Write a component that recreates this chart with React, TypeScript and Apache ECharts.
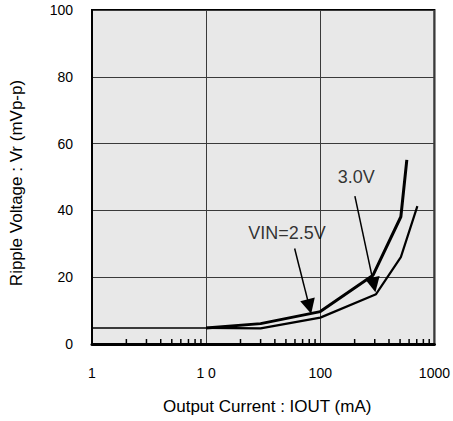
import React, { useEffect, useRef } from "react";
import * as echarts from "echarts";

const xTickValues = [1, 10, 100, 1000];
const xTickLabels = ["1", "1 0", "100", "1000"];
const minorTickValues = [2, 3, 4, 5, 6, 7, 8, 9, 20, 30, 40, 50, 60, 70, 80, 90, 200, 300, 400, 500, 600, 700, 800, 900];
const yTickValues = [0, 20, 40, 60, 80, 100];

const baseLine = [[1, 4.8], [10, 4.8]];
const curveUpper = [[10, 4.8], [30, 6.1], [100, 9.7], [290, 20.6], [508, 38.1], [573, 55.1]];
const curveLower = [[10, 4.8], [30, 4.7], [100, 7.9], [308, 14.9], [508, 26], [709, 41.3]];

const annotationLabels = ["VIN=2.5V", "3.0V"];
const annotationLabelAt = [[51, 33.2], [207, 50.1]];
const arrowFrom = [[59.6, 28.6], [201, 44.3]];
const arrowTo = [[80.2, 11.2], [294.7, 17.7]];

const FONT = "'Liberation Sans', Arial, sans-serif";

export default function App() {
  const ref = useRef<HTMLDivElement>(null);
  useEffect(() => {
    document.body.style.margin = "0";
    const chart = echarts.init(ref.current!, null, { renderer: "svg" });
    chart.setOption({
      animation: false,
      textStyle: { fontFamily: FONT },
      grid: {
        left: 92,
        right: 15,
        top: 10,
        bottom: 77,
        show: true,
        backgroundColor: "#e8e8e8",
        borderColor: "#000",
        borderWidth: 2,
      },
      xAxis: {
        type: "log",
        logBase: 10,
        min: 1,
        max: 1000,
        name: "Output Current : IOUT (mA)",
        nameLocation: "middle",
        nameGap: 54,
        nameTextStyle: { fontSize: 17, color: "#000", fontFamily: FONT, padding: [0, 0, 0, 8] },
        axisLine: { show: true, lineStyle: { color: "#000", width: 3 } },
        axisTick: { show: false },
        axisLabel: {
          fontSize: 14,
          color: "#000",
          margin: 22,
          fontFamily: FONT,
          formatter: (v: number) => {
            const i = xTickValues.findIndex((t) => Math.abs(t - v) < 1e-6 * t);
            return i >= 0 ? xTickLabels[i] : "";
          },
        },
        splitLine: { show: true, lineStyle: { color: "#3a3a3a", width: 1 } },
      },
      yAxis: {
        type: "value",
        min: 0,
        max: 100,
        interval: 20,
        name: "Ripple Voltage : Vr (mVp-p)",
        nameLocation: "middle",
        nameGap: 67,
        nameTextStyle: { fontSize: 17, color: "#000", fontFamily: FONT, padding: [0, 12, 0, 0] },
        axisLine: { show: true, lineStyle: { color: "#000", width: 2 } },
        axisTick: { show: false },
        axisLabel: {
          fontSize: 14,
          color: "#000",
          margin: 19,
          fontFamily: FONT,
          formatter: (v: number) => (yTickValues.includes(v) ? String(v) : ""),
        },
        splitLine: { show: true, lineStyle: { color: "#3a3a3a", width: 1 } },
      },
      series: [
        {
          type: "custom",
          silent: true,
          data: minorTickValues.map((v) => [v, 0]),
          renderItem: (params: any, api: any) => {
            const p = api.coord([api.value(0), 0]);
            return {
              type: "line",
              shape: { x1: p[0], y1: p[1], x2: p[0], y2: p[1] - 5 },
              style: { stroke: "#000", lineWidth: 1.5 },
            };
          },
          z: 3,
        },
        {
          type: "line",
          data: baseLine,
          showSymbol: false,
          symbol: "none",
          lineStyle: { color: "#000", width: 1.5 },
          silent: true,
        },
        {
          type: "line",
          data: curveUpper,
          showSymbol: false,
          symbol: "none",
          lineStyle: { color: "#000", width: 3 },
          silent: true,
        },
        {
          type: "line",
          data: curveLower,
          showSymbol: false,
          symbol: "none",
          lineStyle: { color: "#000", width: 2.2 },
          silent: true,
        },
        {
          type: "scatter",
          silent: true,
          symbolSize: 0,
          data: annotationLabelAt.map((p, i) => ({ value: p, name: annotationLabels[i] })),
          label: {
            show: true,
            position: "inside",
            formatter: (p: any) => p.name,
            fontSize: 18,
            color: "#000",
            fontFamily: FONT,
          },
          markLine: {
            silent: true,
            symbol: ["none", "triangle"],
            symbolSize: 15,
            label: { show: false },
            itemStyle: { color: "#000" },
            lineStyle: { color: "#000", width: 1.5, type: "solid" },
            data: arrowFrom.map((f, i) => [{ coord: f }, { coord: arrowTo[i] }]),
          },
        },
      ],
    });
    return () => chart.dispose();
  }, []);
  return <div ref={ref} style={{ width: 453, height: 421 }} />;
}
